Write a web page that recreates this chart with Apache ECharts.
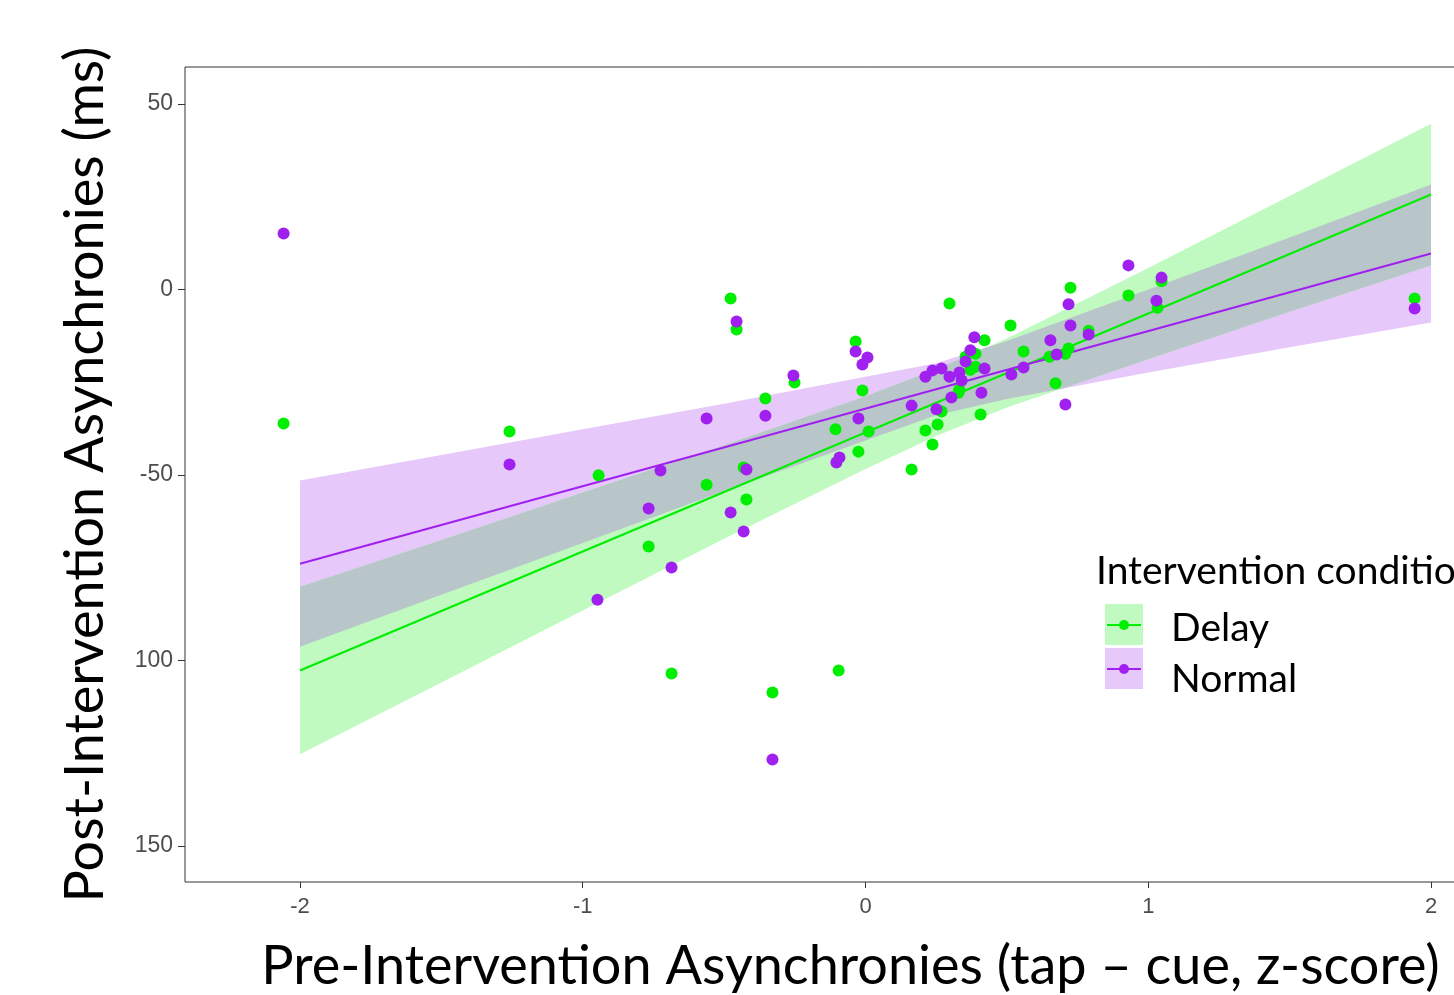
<!DOCTYPE html>
<html>
<head>
<meta charset="utf-8">
<script src="https://cdn.jsdelivr.net/npm/echarts@6/dist/echarts.min.js"></script>
<style>
html,body{margin:0;padding:0;background:#fff;overflow:hidden;width:1454px;height:995px;}
#chart{width:1600px;height:995px;}
</style>
</head>
<body>
<div id="chart"></div>
<script>
// ---- data ----
const X_TICKS = [-2, -1, 0, 1, 2];
const X_TICK_LABELS = ['-2', '-1', '0', '1', '2'];
const Y_TICKS = [-150, -100, -50, 0, 50];
const Y_TICK_LABELS = ['150', '100', '-50', '0', '50'];

const delayPoints = [
  [-2.058, -36.1], [-1.259, -38.3], [-0.944, -50.1], [-0.767, -69.3], [-0.686, -103.5],
  [-0.562, -52.6], [-0.477, -2.4], [-0.456, -10.8], [-0.431, -48.0], [-0.421, -56.6],
  [-0.354, -29.4], [-0.329, -108.6], [-0.251, -25.1], [-0.106, -37.7], [-0.095, -102.7],
  [-0.035, -14.0], [-0.025, -43.7], [-0.011, -27.2], [0.011, -38.3], [0.163, -48.5],
  [0.212, -38.0], [0.237, -41.8], [0.255, -36.4], [0.269, -32.9], [0.297, -3.8],
  [0.332, -27.0], [0.329, -27.8], [0.354, -18.1], [0.389, -17.3], [0.421, -13.7],
  [0.371, -21.6], [0.389, -20.8], [0.407, -33.7], [0.513, -9.7], [0.559, -16.7],
  [0.651, -18.1], [0.672, -25.3], [0.707, -17.3], [0.718, -15.9], [0.725, 0.5],
  [0.789, -11.1], [0.930, -1.6], [1.033, -4.9], [1.047, 2.2], [1.942, -2.4]
];
const normalPoints = [
  [-2.058, 15.1], [-1.259, -47.2], [-0.948, -83.6], [-0.767, -59.0], [-0.725, -48.8],
  [-0.686, -74.9], [-0.562, -34.8], [-0.477, -60.1], [-0.456, -8.6], [-0.431, -65.2],
  [-0.421, -48.5], [-0.354, -34.0], [-0.329, -126.7], [-0.255, -23.2], [-0.103, -46.6],
  [-0.092, -45.3], [-0.035, -16.7], [-0.025, -34.8], [-0.011, -20.2], [0.007, -18.3],
  [0.163, -31.3], [0.212, -23.5], [0.237, -21.8], [0.251, -32.3], [0.269, -21.3],
  [0.297, -23.5], [0.304, -29.1], [0.332, -22.4], [0.340, -24.5], [0.354, -19.4],
  [0.371, -16.4], [0.385, -12.9], [0.410, -27.8], [0.421, -21.3], [0.516, -22.9],
  [0.559, -21.0], [0.654, -13.7], [0.676, -17.5], [0.707, -31.0], [0.718, -4.0],
  [0.725, -9.7], [0.789, -12.1], [0.930, 6.5], [1.029, -3.0], [1.047, 3.2], [1.942, -5.1]
];

// fitted lines (endpoints)
const fitX = [-2, 2];
const delayFit = [-102.7, 25.6];
const normalFit = [-73.9, 9.7];

// confidence bands
const bandX = [-2, -1.5, -1, -0.5, 0, 0.25, 0.5, 1, 1.5, 2];
const delayUpper = [-80.1, -67.5, -54.7, -42.0, -28.75, -21.5, -13.2, 5.8, 25.2, 44.7];
const delayLower = [-125.3, -105.9, -86.5, -67.2, -48.35, -39.5, -31.8, -18.8, -6.0, 6.5];
const normalUpper = [-51.5, -44.6, -37.7, -30.8, -23.5, -19.9, -13.9, 0.0, 14.0, 28.3];
const normalLower = [-96.3, -82.3, -68.3, -54.4, -40.7, -33.9, -29.5, -22.4, -15.6, -8.9];

// ---- drawing ----
const C_DELAY = '#00EE00';
const C_NORMAL = '#A020F0';
const F_DELAY = '#c0fac0';
const F_NORMAL = '#e6c8fa';
const F_BOTH = '#b9c6c9';

function bandPolygon(xs, lo, hi) {
  const pts = [];
  for (let i = 0; i < xs.length; i++) pts.push([xs[i], hi[i]]);
  for (let i = xs.length - 1; i >= 0; i--) pts.push([xs[i], lo[i]]);
  return pts;
}
function envelope(xs, a, b, pick) {
  const out = [];
  for (let i = 0; i < xs.length; i++) {
    out.push([xs[i], pick(a[i], b[i])]);
    if (i < xs.length - 1) {
      const d0 = a[i] - b[i], d1 = a[i + 1] - b[i + 1];
      if (d0 * d1 < 0) {
        const t = d0 / (d0 - d1);
        out.push([xs[i] + t * (xs[i + 1] - xs[i]), a[i] + t * (a[i + 1] - a[i])]);
      }
    }
  }
  return out;
}
const overlapTop = envelope(bandX, delayUpper, normalUpper, Math.min);
const overlapBot = envelope(bandX, delayLower, normalLower, Math.max);
const overlapPoly = overlapTop.concat(overlapBot.slice().reverse());

function polySeries(pts, fill, z) {
  return {
    type: 'custom',
    coordinateSystem: 'cartesian2d',
    silent: true,
    z: z,
    data: [[pts[0][0], pts[0][1]]],
    renderItem: function (params, api) {
      return {
        type: 'polygon',
        shape: { points: pts.map(p => api.coord(p)) },
        style: { fill: fill }
      };
    }
  };
}

const chart = echarts.init(document.getElementById('chart'), null, { renderer: 'canvas' });
const TEXT_FONT = 'Lato, "Open Sans", sans-serif';

const option = {
  backgroundColor: '#ffffff',
  animation: false,
  grid: {
    left: 185, top: 67, width: 1361, height: 815,
    outerBoundsMode: 'none', containLabel: false,
    show: true, borderColor: '#333333', borderWidth: 1, backgroundColor: 'transparent'
  },
  xAxis: {
    type: 'value',
    min: -2.4067, max: 2.4067,
    name: 'Pre-Intervention Asynchronies (tap – cue, z-score)',
    nameLocation: 'middle',
    nameGap: 58,
    nameTextStyle: { fontFamily: TEXT_FONT, fontSize: 54, color: '#000', padding: [0, 30, 0, 0] },
    axisLine: { show: false, onZero: false },
    splitLine: { show: false },
    axisTick: { show: true, length: 6, customValues: X_TICKS, lineStyle: { color: '#333' } },
    axisLabel: {
      customValues: X_TICKS, margin: 14, fontSize: 22, color: '#4d4d4d',
      fontFamily: 'Liberation Sans, Arial, sans-serif',
      formatter: v => X_TICK_LABELS[X_TICKS.indexOf(Math.round(v))]
    }
  },
  yAxis: {
    type: 'value',
    min: -159.7, max: 59.97,
    name: 'Post-Intervention Asynchronies (ms)',
    nameLocation: 'middle',
    nameRotate: 90,
    nameGap: 72,
    nameTextStyle: { fontFamily: TEXT_FONT, fontSize: 54, color: '#000' },
    axisLine: { show: false, onZero: false },
    splitLine: { show: false },
    axisTick: { show: true, length: 7, customValues: Y_TICKS, lineStyle: { color: '#333' } },
    axisLabel: {
      customValues: Y_TICKS, margin: 12, fontSize: 23, color: '#4d4d4d',
      fontFamily: 'Liberation Sans, Arial, sans-serif',
      formatter: v => Y_TICK_LABELS[Y_TICKS.indexOf(Math.round(v))]
    }
  },
  series: [
    polySeries(bandPolygon(bandX, normalLower, normalUpper), F_NORMAL, 1),
    polySeries(bandPolygon(bandX, delayLower, delayUpper), F_DELAY, 1),
    polySeries(overlapPoly, F_BOTH, 1),
    {
      name: 'Delay fit', type: 'line', z: 2, showSymbol: false, silent: true,
      data: fitX.map((x, i) => [x, delayFit[i]]),
      lineStyle: { color: C_DELAY, width: 2 }
    },
    {
      name: 'Normal fit', type: 'line', z: 2, showSymbol: false, silent: true,
      data: fitX.map((x, i) => [x, normalFit[i]]),
      lineStyle: { color: C_NORMAL, width: 2 }
    },
    {
      name: 'Delay', type: 'scatter', z: 3, symbolSize: 12,
      data: delayPoints, itemStyle: { color: C_DELAY, opacity: 1 }
    },
    {
      name: 'Normal', type: 'scatter', z: 4, symbolSize: 12,
      data: normalPoints, itemStyle: { color: C_NORMAL, opacity: 1 }
    }
  ],
  graphic: [
    { type: 'text', left: 1096, top: 552, style: { text: 'Intervention condition', font: '39px ' + TEXT_FONT, fill: '#000' } },
    { type: 'rect', shape: { x: 1105, y: 604, width: 38, height: 41 }, style: { fill: F_DELAY } },
    { type: 'line', shape: { x1: 1107, y1: 625, x2: 1141, y2: 625 }, style: { stroke: C_DELAY, lineWidth: 2 } },
    { type: 'circle', shape: { cx: 1124, cy: 625, r: 5 }, style: { fill: C_DELAY } },
    { type: 'rect', shape: { x: 1105, y: 648, width: 38, height: 41 }, style: { fill: F_NORMAL } },
    { type: 'line', shape: { x1: 1107, y1: 669, x2: 1141, y2: 669 }, style: { stroke: C_NORMAL, lineWidth: 2 } },
    { type: 'circle', shape: { cx: 1124, cy: 669, r: 5 }, style: { fill: C_NORMAL } },
    { type: 'text', left: 1171, top: 609, style: { text: 'Delay', font: '39px ' + TEXT_FONT, fill: '#000' } },
    { type: 'text', left: 1171, top: 660, style: { text: 'Normal', font: '39px ' + TEXT_FONT, fill: '#000' } }
  ]
};
chart.setOption(option);
</script>
</body>
</html>
